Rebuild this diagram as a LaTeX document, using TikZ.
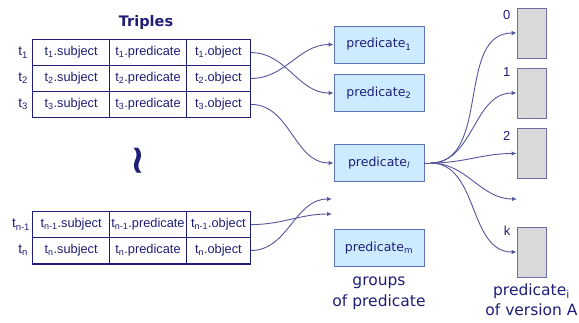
\documentclass[tikz,border=0pt]{standalone}
\usepackage{fontspec}
\setmainfont{Liberation Sans}
\newfontfamily\verdfont{DejaVu Sans}
\usetikzlibrary{matrix,arrows.meta,positioning}

\definecolor{ink}{RGB}{30,30,120}
\definecolor{wire}{RGB}{85,85,155}
\definecolor{groupfill}{RGB}{205,235,255}
\definecolor{groupline}{RGB}{95,115,185}
\definecolor{slotfill}{RGB}{217,217,217}
\definecolor{slotline}{RGB}{110,110,165}

\tikzset{%
  cell/.style     = {draw=ink, line width=0.9pt, minimum height=25.9pt,%
                     inner sep=0pt, text=ink, font=\fontsize{12.8}{14}\selectfont},%
  triples/.style  = {matrix of nodes, nodes={cell}, anchor=north west,%
                     inner sep=0pt, row sep=-0.9pt, column sep=-0.9pt,%
                     column 1/.style={nodes={minimum width=76.9pt}},%
                     column 2/.style={nodes={minimum width=76.9pt}},%
                     column 3/.style={nodes={minimum width=63.9pt}}},%
  group/.style    = {draw=groupline, fill=groupfill, line width=0.9pt,%
                     minimum width=90pt, minimum height=37pt, inner sep=0pt,%
                     text=ink, font=\verdfont\fontsize{12.5}{15}\selectfont},%
  slot/.style     = {draw=slotline, fill=slotfill, line width=0.9pt,%
                     minimum width=29pt, minimum height=50pt, inner sep=0pt},%
  rowlabel/.style = {text=ink, anchor=east, inner sep=0pt,%
                     font=\fontsize{13.5}{15}\selectfont},%
  slotnum/.style  = {text=ink, anchor=east, inner sep=0pt,%
                     font=\fontsize{13}{15}\selectfont},%
  caption/.style  = {text=ink, align=center, inner sep=0pt,%
                     font=\verdfont\fontsize{15.5}{20.5}\selectfont},%
  link/.style     = {draw=wire, line width=0.9pt, -{Latex[length=5pt,width=4.5pt]}}%
}

\begin{document}
\begin{tikzpicture}[x=1pt,y=-1pt]
	\useasboundingbox (0,0) rectangle (579,322);

	% the triples table
	\node [text=ink, font=\verdfont\bfseries\fontsize{14.5}{16}\selectfont] (title) at (146,22) {Triples};
	\matrix (top) [triples] at (32,39) {
		t\textsubscript{1}.subject & t\textsubscript{1}.predicate & t\textsubscript{1}.object \\
		t\textsubscript{2}.subject & t\textsubscript{2}.predicate & t\textsubscript{2}.object \\
		t\textsubscript{3}.subject & t\textsubscript{3}.predicate & t\textsubscript{3}.object \\
	};
	\draw [ink, line width=1.3pt] (top-1-1.north west) rectangle (top-3-3.south east);
	\node [rowlabel] (t1) at ([xshift=-4pt]top-1-1.west) {t\textsubscript{1}};
	\node [rowlabel] (t2) at ([xshift=-4pt]top-2-1.west) {t\textsubscript{2}};
	\node [rowlabel] (t3) at ([xshift=-4pt]top-3-1.west) {t\textsubscript{3}};

	\node [text=ink, rotate=90, font=\verdfont\bfseries\fontsize{40}{40}\selectfont] (gap) at (142,161) {∼};

	\matrix (bot) [triples] at (32,211) {
		t\textsubscript{n-1}.subject & t\textsubscript{n-1}.predicate & t\textsubscript{n-1}.object \\
		t\textsubscript{n}.subject & t\textsubscript{n}.predicate & t\textsubscript{n}.object \\
	};
	\draw [ink, line width=1.3pt] (bot-1-1.north west) rectangle (bot-2-3.south east);
	\node [rowlabel] (tn1) at ([xshift=-2pt]bot-1-1.west) {t\textsubscript{n-1}};
	\node [rowlabel] (tn) at ([xshift=-4pt]bot-2-1.west) {t\textsubscript{n}};

	% groups of predicate
	\node [group] (pred1) at (379,44.5) {predicate\textsubscript{1}};
	\node [group] (pred2) at (379,93) {predicate\textsubscript{2}};
	\node [group] (predl) at (379,163) {predicate\textsubscript{\textit{l}}};
	\node [group] (predm) at (379,248) {predicate\textsubscript{m}};
	\node [caption, below=10pt of predm] (groups) {groups\\of predicate};

	% versions of one predicate
	\node [slot] (v0) at (531.5,33) {};
	\node [slot] (v1) at (531.5,93) {};
	\node [slot] (v2) at (531.5,153.5) {};
	\node [slot] (vk) at (531.5,252) {};
	\node [slotnum] (n0) at ([xshift=-6pt,yshift=-7pt]v0.north west) {0};
	\node [slotnum] (n1) at ([xshift=-6pt,yshift=-4pt]v1.north west) {1};
	\node [slotnum] (n2) at ([xshift=-6pt,yshift=-8pt]v2.north west) {2};
	\node [slotnum] (nk) at ([xshift=-6pt,yshift=-4pt]vk.north west) {k};
	\node [caption, below=6pt of vk] (versions) {predicate\textsubscript{i}\\of version A};

	\coordinate (open1) at (332,199);
	\coordinate (open2) at (332,214);
	\coordinate (open3) at (517,199);
	\coordinate (fan) at ([xshift=6pt]predl.east);

	\draw [link] (top-1-3.east) to [out=0,in=180] (pred2.west);
	\draw [link] (top-2-3.east) to [out=0,in=180] (pred1.west);
	\draw [link] (top-3-3.east) to [out=0,in=180] (predl.west);
	\draw [link] (bot-1-3.east) to [out=0,in=180] (open2);
	\draw [link] (bot-2-3.east) to [out=0,in=180] (open1);

	\draw [draw=wire, line width=0.9pt] (predl.east) -- (fan);
	\draw [link] (fan) to [out=0,in=180] (v0.west);
	\draw [link] (fan) to [out=0,in=180] (v1.west);
	\draw [link] (fan) to [out=0,in=180] (v2.west);
	\draw [link] (fan) to [out=0,in=180] (open3);
	\draw [link] (fan) to [out=0,in=180] (vk.west);
\end{tikzpicture}
\end{document}
